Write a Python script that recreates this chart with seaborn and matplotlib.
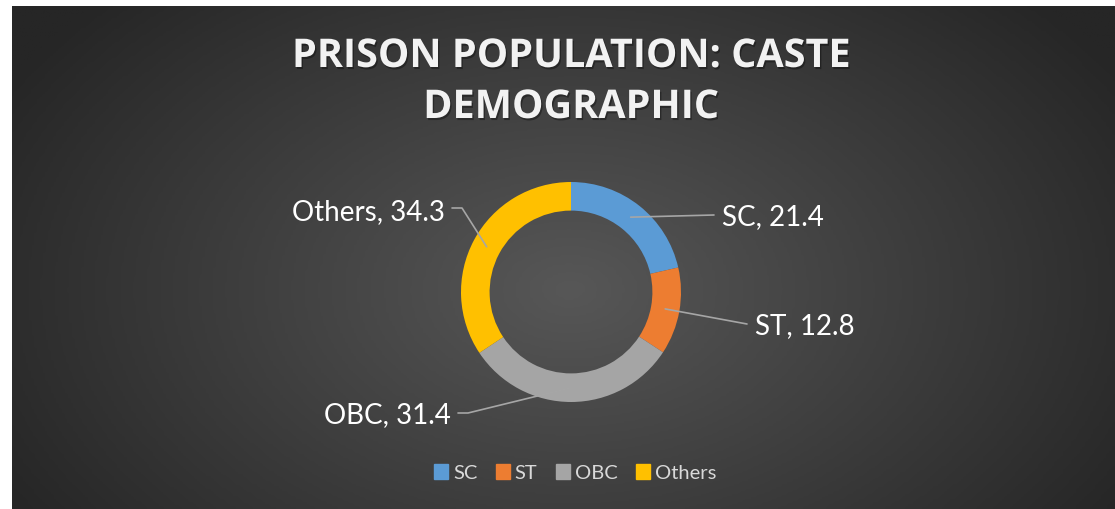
import numpy as np
import seaborn as sns
import matplotlib.pyplot as plt
import matplotlib.patheffects as pe

# data
categories = ["SC", "ST", "OBC", "Others"]
values = [21.4, 12.8, 31.4, 34.3]
colors = ["#5b9bd5", "#ed7d31", "#a5a5a5", "#ffc000"]
title = "PRISON POPULATION: CASTE\nDEMOGRAPHIC"

sns.set_theme(style="dark")
plt.rcParams["font.family"] = ["Lato", "DejaVu Sans"]

W, H = 1115, 509
fig = plt.figure(figsize=(W / 100, H / 100), dpi=100, facecolor="white")
ax = fig.add_axes([0, 0, 1, 1])

# dark radial gradient background
x0, y0 = 12, 6
gx, gy = np.meshgrid(np.linspace(x0, W, 400), np.linspace(y0, H, 200))
d = np.sqrt(((gx - 570) / 650) ** 2 + ((gy - 290) / 420) ** 2)
d = np.clip(d, 0, 1)
ax.imshow(d, extent=(x0, W, H, y0), cmap=sns.blend_palette(["#575757", "#262626"], as_cmap=True),
          vmin=0, vmax=1, zorder=0, aspect="auto")

# donut (y axis is inverted, so start at -90 and go counterclockwise in data space)
cx, cy, r = 571, 292, 110
width = 0.26
wedges, _ = ax.pie(values, colors=colors, startangle=-90, counterclock=True,
                   radius=r, center=(cx, cy), wedgeprops=dict(width=r * width, linewidth=0),
                   frame=True)
ax.set_xlim(0, W)
ax.set_ylim(H, 0)
ax.axis("off")

# labels with leader lines
label_pos = [(722, 217, "left"), (755, 326, "left"), (451, 415, "right"), (445, 212, "right")]
mid_r = r * (1 - width / 2)
tot = sum(values)
cum = 0
for (lx, ly, ha), cat, v in zip(label_pos, categories, values):
    ang = np.deg2rad(90 - (cum + v / 2) / tot * 360)
    cum += v
    sx, sy = cx + mid_r * np.cos(ang), cy - mid_r * np.sin(ang)
    if ha == "left":
        ex = lx - 8
        ax.plot([sx, ex], [sy, ly - 2], color="#a6a6a6", lw=1.2, zorder=3)
    else:
        ex = lx + 7
        ey = ly - 4 if cat == "Others" else ly - 2
        ax.plot([sx, ex + 10, ex], [sy, ey, ey], color="#a6a6a6", lw=1.2, zorder=3)
    ax.text(lx, ly, f"{cat}, {v}", ha=ha, va="center", color="white", fontsize=20, zorder=4)

# title
ax.text(571, 82, title, ha="center", va="center", color="#f2f2f2", fontsize=28.5, fontweight="bold",
        family=["Open Sans", "DejaVu Sans"], linespacing=1.4, zorder=4,
        path_effects=[pe.withSimplePatchShadow(offset=(1, -1.5), shadow_rgbFace="black", alpha=0.35)])

# legend
handles = [plt.Rectangle((0, 0), 1, 1, color=c) for c in colors]
leg = fig.legend(handles, categories, loc="center", bbox_to_anchor=(575 / W, 1 - 473 / H), ncol=4,
                 frameon=False, fontsize=14.5, handlelength=0.7, handleheight=0.7, handletextpad=0.25,
                 columnspacing=0.9)
for t in leg.get_texts():
    t.set_color("#d9d9d9")

fig.savefig("out.png", dpi=100, facecolor="white")
